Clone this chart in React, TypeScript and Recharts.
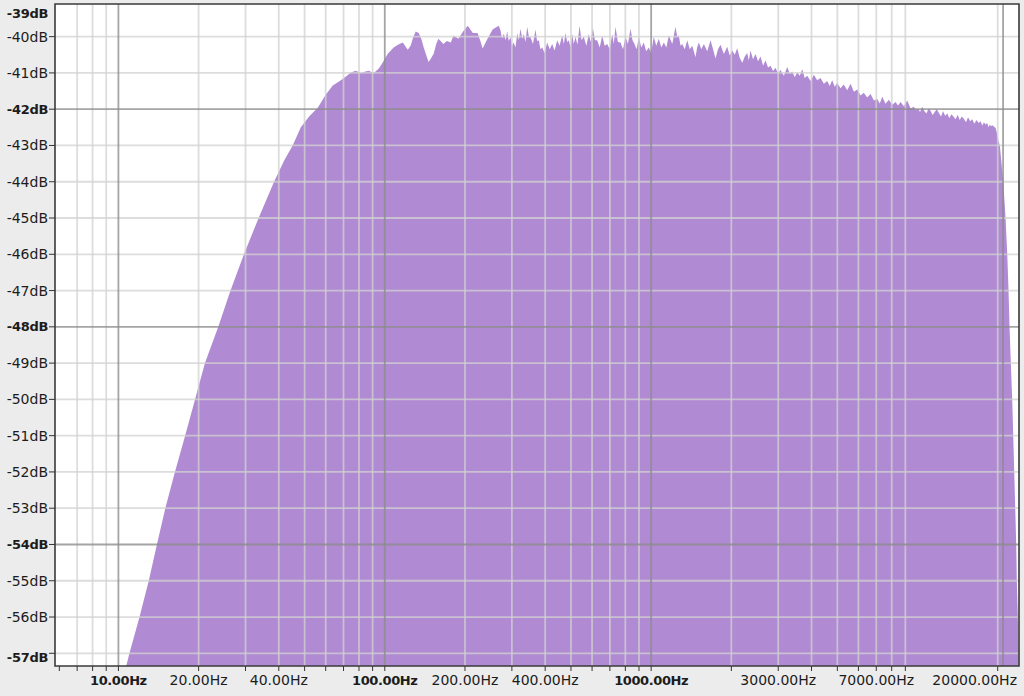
import React from "react";
import {
  ComposedChart,
  Area,
  XAxis,
  YAxis,
  CartesianGrid,
  ReferenceLine,
  ReferenceArea,
} from "recharts";

// ---- data ----
const freqHz: number[] = [
  10.7, 11.0, 12.0, 13.0, 13.95, 15.0, 16.3, 17.8, 19.39, 21.13, 23.71, 26.35, 29.6, 33.6, 38.4, 42.0, 45.1, 48.4, 52, 56.1,
  60, 63.8, 68.4, 71.5, 74.6, 77.8, 81.3, 84, 87.0, 90.9, 95, 98.5, 102.6, 108, 112, 116.8, 122, 125, 128, 130.7,
  134, 137, 140, 146, 149, 152.6, 156, 159, 166, 171, 177, 181, 189, 197, 205, 214, 223, 228, 233, 243,
  254, 261, 268, 271.9, 275.5, 279.8, 284, 288, 292, 296.4, 300.5, 305, 309.5, 314.2, 318.5, 323.2, 328, 332.6, 337.5, 342.5,
  347.5, 352.4, 360, 368, 373, 378.7, 384, 389.9, 398, 407.1, 416, 425.1, 434, 443.9, 453, 463.5, 470, 476.9, 484, 490.8,
  498, 505.4, 512, 520, 529, 538.3, 548, 558.6, 571, 583.3, 593, 603.8, 615, 627.2, 641, 655, 669, 683.9, 699, 714,
  724, 734.7, 750, 767.3, 784, 801.2, 818, 836.6, 851, 866, 882, 898.7, 918, 938.5, 958, 979.9, 1000, 1023, 1045, 1068,
  1092, 1116, 1140, 1165, 1200, 1234, 1252, 1270, 1289, 1308, 1337, 1366, 1396, 1426, 1446, 1467, 1488, 1510, 1543, 1577,
  1624, 1671, 1707, 1744, 1782, 1821, 1875, 1930, 1972, 2016, 2060, 2104, 2150, 2198, 2246, 2294, 2327, 2360, 2412, 2465,
  2519, 2574, 2631, 2688, 2747, 2806, 2868, 2931, 2995, 3060, 3150, 3243, 3313, 3385, 3460, 3535, 3612, 3691, 3772, 3854,
  3966, 4081, 4200, 4323, 4450, 4581, 4680, 4783, 4888, 4994, 5140, 5288, 5445, 5604, 5770, 5937, 6110, 6286, 6470, 6661,
  6860, 7059, 7215, 7371, 7585, 7803, 8035, 8270, 8450, 8635, 8890, 9149, 9415, 9686, 9860, 10040, 10220, 10413, 10600, 10800,
  11000, 11188, 11400, 11600, 11800, 12023, 12250, 12470, 12700, 12930, 13160, 13400, 13640, 13893, 14150, 14400, 14660, 14925, 15200, 15480,
  15760, 16047, 16340, 16640, 16940, 17244, 17500, 17750, 18000, 18270, 18470, 18670, 18870, 19080, 19350, 19640, 19850, 20020, 20370, 20980,
  21400, 21720, 21960, 22150, 22400, 22670, 22870, 23070, 23270, 23470, 23590, 23800, 24010,
];

const levelDb: number[] = [
  -57.35, -57.0, -56.0, -55.0, -54.0, -53.0, -52.0, -51.0, -50.0, -49.0, -48.0, -47.0, -46.0, -45.0, -44.0, -43.4, -43.0, -42.5, -42.2, -41.95,
  -41.6, -41.35, -41.2, -41.1, -40.99, -40.94, -41.0, -40.97, -40.94, -41.0, -40.88, -40.7, -40.47, -40.3, -40.22, -40.16, -40.36, -40.25, -40.0, -39.86,
  -39.9, -40.05, -40.3, -40.7, -40.6, -40.47, -40.2, -40.06, -40.2, -40.12, -40.16, -39.97, -40.06, -39.85, -39.7, -39.9, -39.9, -40.1, -40.33, -40.06,
  -39.8, -39.75, -39.7, -39.83, -40.05, -39.92, -40.1, -39.85, -40.12, -40.02, -40.25, -40.16, -40.3, -39.9, -40.1, -39.78, -40.05, -39.93, -40.15, -39.73,
  -40.0, -40.02, -40.2, -39.8, -40.12, -40.1, -40.35, -40.3, -40.45, -40.16, -40.35, -40.2, -40.38, -40.1, -40.25, -39.97, -40.2, -39.9, -40.15, -40.1,
  -40.3, -39.93, -40.2, -40.0, -40.22, -39.7, -40.1, -40.0, -40.25, -39.93, -40.15, -39.75, -40.1, -40.1, -40.3, -39.97, -40.25, -40.2, -40.35, -39.93,
  -40.2, -39.73, -40.15, -40.16, -40.35, -40.0, -40.2, -39.78, -40.1, -40.2, -40.35, -40.0, -40.3, -40.16, -40.4, -40.3, -40.45, -40.0, -40.25, -40.06,
  -40.3, -40.16, -40.3, -39.97, -40.2, -39.73, -40.0, -39.97, -40.25, -40.2, -40.35, -40.1, -40.35, -40.25, -40.4, -40.57, -40.3, -40.16, -40.35, -40.2,
  -40.4, -40.1, -40.35, -40.6, -40.35, -40.22, -40.48, -40.28, -40.52, -40.38, -40.5, -40.32, -40.58, -40.72, -40.55, -40.45, -40.66, -40.38, -40.62, -40.48,
  -40.68, -40.55, -40.8, -40.66, -40.85, -40.8, -40.95, -40.86, -41.02, -40.92, -41.08, -40.84, -41.02, -40.96, -41.12, -40.98, -41.08, -40.9, -41.14, -41.08,
  -41.22, -41.05, -41.2, -41.14, -41.3, -41.22, -41.36, -41.2, -41.38, -41.28, -41.42, -41.32, -41.48, -41.3, -41.52, -41.46, -41.62, -41.55, -41.68, -41.58,
  -41.76, -41.72, -41.84, -41.66, -41.85, -41.74, -41.88, -41.8, -41.9, -41.8, -41.92, -41.76, -41.98, -41.93, -42.02, -41.98, -42.08, -41.93, -42.05, -42.12,
  -41.98, -42.04, -42.16, -42.08, -42.0, -42.1, -42.2, -42.06, -42.18, -42.12, -42.25, -42.14, -42.2, -42.28, -42.15, -42.3, -42.2, -42.26, -42.36, -42.22,
  -42.33, -42.28, -42.4, -42.3, -42.38, -42.33, -42.45, -42.36, -42.42, -42.38, -42.5, -42.42, -42.47, -42.44, -42.48, -42.52, -42.65, -42.82, -43.0, -44.0,
  -45.0, -46.0, -47.0, -48.0, -49.0, -50.0, -51.0, -52.0, -53.0, -54.0, -55.0, -56.0, -57.35,
];

// ---- axes ----
const X_MIN = 5.78;
const X_MAX = 24040;
const Y_MIN = -57.35;
const Y_MAX = -39.1;

const xTicks: number[] = [
  6, 7, 8, 9, 10, 20, 30, 40, 50, 60, 70, 80, 90, 100, 200, 300, 400, 500, 600, 700, 800, 900, 1000,
  2000, 3000, 4000, 5000, 6000, 7000, 8000, 9000, 20000,
];
const xLabelled: number[] = [10, 20, 40, 100, 200, 400, 1000, 3000, 7000, 20000];
const xBold: number[] = [10, 100, 1000];
const xGridMinor: number[] = [
  7, 8, 9, 20, 30, 40, 50, 60, 70, 80, 90, 200, 300, 400, 500, 600, 700, 800, 900,
  2000, 3000, 4000, 5000, 6000, 7000, 8000, 9000, 20000,
];
const xGridMajor: number[] = [10, 100, 1000, 20950];

const yTicks: number[] = [
  -39, -40, -41, -42, -43, -44, -45, -46, -47, -48, -49, -50, -51, -52, -53, -54, -55, -56, -57,
];
const yBold: number[] = [-39, -42, -48, -54, -57];
const yGridMinor: number[] = [-40, -41, -43, -44, -45, -46, -47, -49, -50, -51, -52, -53, -55, -56, -57];
const yGridMajor: number[] = [-42, -48, -54];

const data = freqHz.map((f, i) => ({ f, db: levelDb[i] }));

const FONT = '"DejaVu Sans", Verdana, sans-serif';
const TEXT = "#1c1c1c";
const FILL = "#b08ad2";
const MINOR = "rgba(210,210,210,0.75)";
const MAJOR = "rgba(140,140,140,0.78)";

const YTick = (props: any) => {
  const { x, y, payload } = props;
  const v = payload.value as number;
  const bold = yBold.includes(v);
  let ty = y;
  if (ty < 13) ty = 13;
  if (v === -57) ty = y + 4;
  return (
    <g>
      {y >= 4 && <line x1={x + 1} x2={x + 7} y1={y} y2={y} stroke="#333" strokeWidth={1} />}
      <text
        x={x}
        y={ty}
        textAnchor="end"
        dominantBaseline="central"
        fill={TEXT}
        fontFamily={FONT}
        fontSize={bold ? 13 : 14}
        fontWeight={bold ? 700 : 400}
        letterSpacing={bold ? -0.3 : 0}
      >
        {`${v}dB`}
      </text>
    </g>
  );
};

const XTick = (props: any) => {
  const { x, y, payload } = props;
  const v = payload.value as number;
  const labelled = xLabelled.includes(v);
  const bold = xBold.includes(v);
  const label = `${v.toFixed(2)}Hz`;
  const w = label.length * 8.5;
  let tx = x;
  let anchor: "middle" | "end" = "middle";
  if (x + w / 2 > 1017) {
    tx = 1017;
    anchor = "end";
  }
  return (
    <g>
      <line x1={x} x2={x} y1={y - 5} y2={y} stroke="#333" strokeWidth={1} />
      {labelled && (
        <text
          x={tx}
          y={y + 14}
          textAnchor={anchor}
          fill={TEXT}
          fontFamily={FONT}
          fontSize={bold ? 13 : 14}
          fontWeight={bold ? 700 : 400}
          letterSpacing={bold ? -0.4 : 0}
        >
          {label}
        </text>
      )}
    </g>
  );
};

export default function App() {
  return (
    <div
      style={{
        position: "absolute",
        left: 0,
        top: 0,
        width: 1024,
        height: 696,
        background: "#ececec",
        overflow: "hidden",
      }}
    >
      <ComposedChart
        width={1024}
        height={696}
        data={data}
        margin={{ top: 4, right: 5, bottom: 0, left: 0 }}
      >
        <CartesianGrid horizontal={false} vertical={false} fill="#ffffff" fillOpacity={1} />
        <XAxis
          dataKey="f"
          type="number"
          scale="log"
          domain={[X_MIN, X_MAX]}
          allowDataOverflow
          ticks={xTicks}
          interval={0}
          tickLine={false}
          axisLine={false}
          tickSize={5}
          tickMargin={0}
          height={30}
          tick={<XTick />}
        />
        <YAxis
          type="number"
          domain={[Y_MIN, Y_MAX]}
          allowDataOverflow
          ticks={yTicks}
          interval={0}
          tickLine={false}
          axisLine={false}
          tickSize={6}
          tickMargin={1}
          width={55}
          tick={<YTick />}
        />
        <Area
          type="linear"
          dataKey="db"
          baseValue="dataMin"
          fill={FILL}
          fillOpacity={1}
          stroke="none"
          isAnimationActive={false}
          dot={false}
          activeDot={false}
        />
        {yGridMinor.map((v) => (
          <ReferenceLine key={`ym${v}`} y={v} stroke={MINOR} strokeWidth={1.8} zIndex={1500} />
        ))}
        {xGridMinor.map((v) => (
          <ReferenceLine key={`xm${v}`} x={v} stroke={MINOR} strokeWidth={1.8} zIndex={1500} />
        ))}
        {yGridMajor.map((v) => (
          <ReferenceLine key={`yM${v}`} y={v} stroke={MAJOR} strokeWidth={1.8} zIndex={1510} />
        ))}
        {xGridMajor.map((v) => (
          <ReferenceLine key={`xM${v}`} x={v} stroke={MAJOR} strokeWidth={1.8} zIndex={1510} />
        ))}
        <ReferenceArea
          x1={X_MIN}
          x2={X_MAX}
          y1={Y_MIN}
          y2={Y_MAX}
          fill="none"
          stroke="#3a3a3a"
          strokeWidth={1.6}
          zIndex={1600}
        />
      </ComposedChart>
    </div>
  );
}
